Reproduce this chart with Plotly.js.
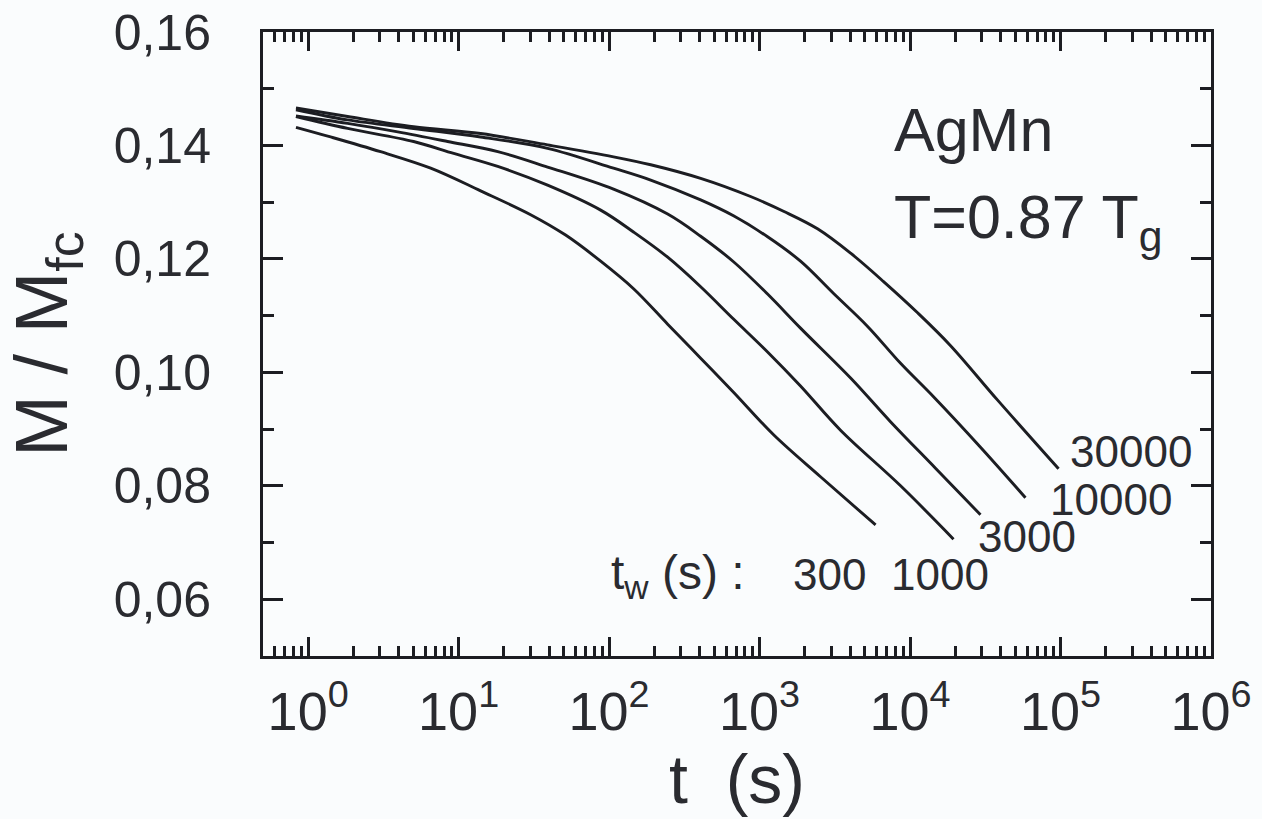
<!DOCTYPE html>
<html>
<head>
<meta charset="utf-8">
<script src="https://cdn.plot.ly/plotly-3.0.1.min.js"></script>
<style>
html,body{margin:0;padding:0;background:#fafcfd;}
#chart{width:1262px;height:819px;}
</style>
</head>
<body>
<div id="chart"></div>
<script>
// waiting times t_w (s)
const waitingTimes = ['300', '1000', '3000', '10000', '30000'];

// t (s) and M/Mfc, one pair per waiting time
const t_tw300 = [0.83, 1.41, 3.03, 6.52, 14.0, 30.1, 51.4, 87.9, 146, 245, 406, 671, 1239, 2541, 5902];
const m_tw300 = [0.1432, 0.1415, 0.1389, 0.1360, 0.1320, 0.1278, 0.1242, 0.1196, 0.1147, 0.1085, 0.1025, 0.0965, 0.0890, 0.0816, 0.0731];

const t_tw1000 = [0.83, 1.83, 5.02, 9.27, 18.2, 39.0, 87.9, 146, 245, 406, 671, 1130, 1871, 3451, 8650, 19450];
const m_tw1000 = [0.1451, 0.1430, 0.1407, 0.1386, 0.1363, 0.1330, 0.1286, 0.1247, 0.1203, 0.1151, 0.1094, 0.1036, 0.0976, 0.0898, 0.0800, 0.0706];

const t_tw3000 = [0.83, 1.83, 3.94, 8.45, 18.2, 39.0, 107, 245, 406, 671, 1130, 1871, 4027, 7413, 14760, 29380];
const m_tw3000 = [0.1452, 0.1439, 0.1424, 0.1407, 0.1389, 0.1362, 0.1323, 0.1279, 0.1240, 0.1195, 0.1138, 0.1078, 0.0990, 0.0913, 0.0831, 0.0749];

const t_tw10000 = [0.83, 1.83, 5.02, 14.0, 39.0, 107, 189, 406, 671, 1130, 1871, 3105, 5224, 8650, 14320, 29380, 58480];
const m_tw10000 = [0.1463, 0.1445, 0.1430, 0.1415, 0.1395, 0.1360, 0.1339, 0.1304, 0.1276, 0.1239, 0.1196, 0.1139, 0.1081, 0.1016, 0.0957, 0.0868, 0.0779];

const t_tw30000 = [0.83, 1.83, 5.02, 14.0, 39.0, 107, 189, 406, 871, 1442, 2427, 4027, 6668, 11220, 18590, 38190, 97050];
const m_tw30000 = [0.1466, 0.1451, 0.1433, 0.1421, 0.1401, 0.1380, 0.1366, 0.1342, 0.1310, 0.1284, 0.1253, 0.1210, 0.1160, 0.1105, 0.1047, 0.0951, 0.0830];

// axis ticks
const xTickVals = [1, 10, 100, 1000, 10000, 100000, 1000000];
const xTickText = ['10<sup>0</sup>', '10<sup>1</sup>', '10<sup>2</sup>', '10<sup>3</sup>', '10<sup>4</sup>', '10<sup>5</sup>', '10<sup>6</sup>'];
const yTickVals = [0.06, 0.08, 0.10, 0.12, 0.14, 0.16];

const seriesT = [t_tw300, t_tw1000, t_tw3000, t_tw10000, t_tw30000];
const seriesM = [m_tw300, m_tw1000, m_tw3000, m_tw10000, m_tw30000];

const INK = '#1c1d22';
const TXT = '#2a2b30';
const FONT = '"Liberation Sans", Arial, Helvetica, sans-serif';

const traces = waitingTimes.map((tw, i) => ({
  type: 'scatter',
  mode: 'lines',
  name: 't_w = ' + tw + ' s',
  x: seriesT[i],
  y: seriesM[i],
  line: {color: INK, width: 2.9, shape: 'spline', smoothing: 1.0},
  showlegend: false,
  hoverinfo: 'x+y+name'
}));

// plot-area pixel geometry
const L = 263, R = 1211, T = 32, B = 656;
const W = 1262, H = 819;
const px = x => (x - L) / (R - L);
const py = y => (B - y) / (B - T);

function ann(text, x, y, size, xanchor) {
  return {
    text: text, xref: 'paper', yref: 'paper',
    x: px(x), y: py(y), xanchor: xanchor || 'left', yanchor: 'middle',
    showarrow: false, font: {family: FONT, size: size, color: TXT}
  };
}

const layout = {
  width: W, height: H,
  margin: {l: L, r: W - R, t: T, b: H - B, pad: 0},
  paper_bgcolor: '#fafcfd',
  plot_bgcolor: '#fafcfd',
  separators: ',.',
  font: {family: FONT, color: TXT},
  showlegend: false,
  xaxis: {
    type: 'log',
    range: [-0.3, 6.0],
    tickmode: 'array',
    tickvals: xTickVals,
    ticktext: xTickText,
    ticks: 'inside',
    ticklen: 19,
    tickwidth: 3,
    tickcolor: INK,
    minor: {ticks: 'inside', ticklen: 10, tickwidth: 3, tickcolor: INK, dtick: 'D1', showgrid: false},
    showline: true,
    linewidth: 3,
    linecolor: INK,
    mirror: 'ticks',
    showgrid: false,
    zeroline: false,
    tickfont: {family: FONT, size: 54, color: TXT},
    ticklabelstandoff: 6,
    automargin: false,
    title: {text: 't\u00a0\u00a0(s)', font: {family: FONT, size: 68, color: TXT}, standoff: 8}
  },
  yaxis: {
    range: [0.05, 0.16],
    tickmode: 'array',
    tickvals: yTickVals,
    tickformat: '.2f',
    ticks: 'inside',
    ticklen: 20,
    tickwidth: 3,
    tickcolor: INK,
    minor: {ticks: 'inside', ticklen: 11, tickwidth: 3, tickcolor: INK, dtick: 0.01, tick0: 0.05, showgrid: false},
    showline: true,
    linewidth: 3,
    linecolor: INK,
    mirror: 'ticks',
    showgrid: false,
    zeroline: false,
    tickfont: {family: FONT, size: 50, color: TXT},
    ticklabelstandoff: 39,
    automargin: false,
    title: {text: 'M / M<sub>fc</sub>', font: {family: FONT, size: 74, color: TXT}, standoff: 42}
  },
  annotations: [
    ann('AgMn', 892, 130, 61),
    ann('T=0.87 T<sub>g</sub>', 892, 221, 61),
    ann('30000', 1068, 451, 44),
    ann('10000', 1048, 499, 44),
    ann('3000', 976, 536, 44),
    ann('t<sub>w</sub>\u00a0(s)\u00a0:', 609, 576, 48),
    ann('300', 791, 574, 44),
    ann('1000', 889, 574, 44)
  ]
};

Plotly.newPlot('chart', traces, layout, {displayModeBar: false, staticPlot: true});
</script>
</body>
</html>
